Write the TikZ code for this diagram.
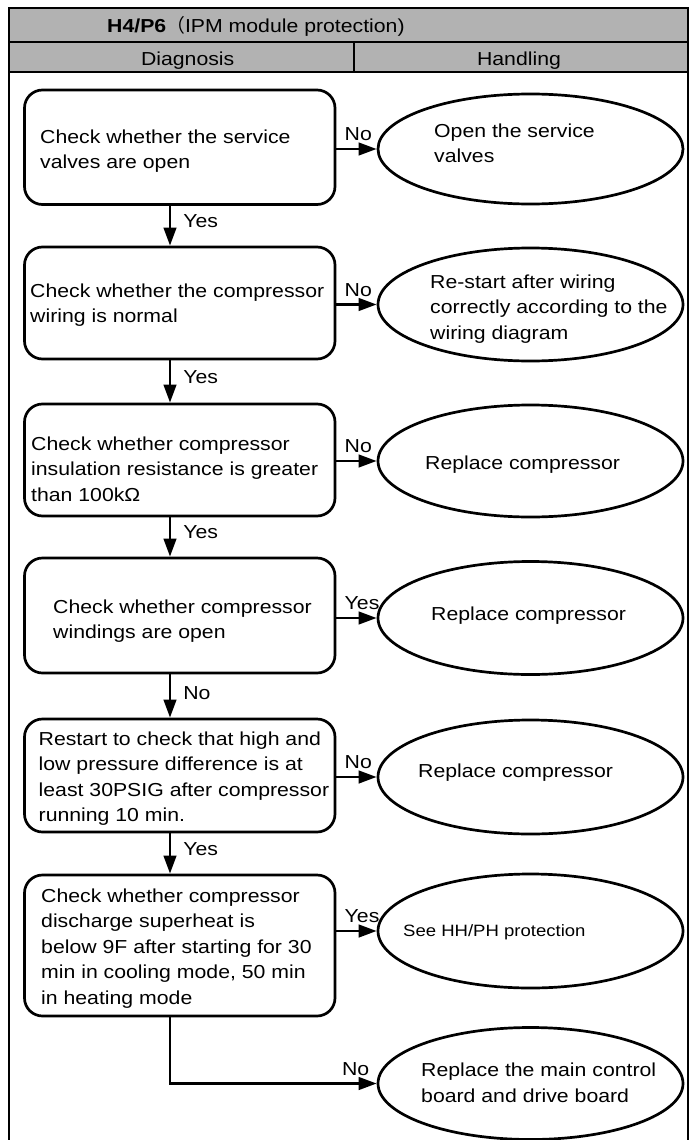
\documentclass[tikz,border=0pt]{standalone}
\usepackage{fontspec}
\setmainfont{Liberation Sans}[FakeStretch=1.13]
\newfontfamily\cjkfont{Noto Sans CJK SC}
\usetikzlibrary{arrows.meta,shapes.geometric}
\tikzset{
  frame/.style={line width=2.5pt},
  hdrcell/.style={draw, line width=2.5pt, fill=black!30, inner sep=0pt},
  stepbox/.style={draw, line width=2.7pt, rounded corners=18pt, minimum width=310.5pt, inner sep=0pt},
  endell/.style={draw, ellipse, line width=2.7pt, minimum width=305pt, inner sep=0pt},
  txt/.style={anchor=north west, inner sep=0pt, align=left, font=\fontsize{18.8}{25.5}\selectfont},
  txtone/.style={anchor=base west, inner sep=0pt, font=\fontsize{18.8}{25.5}\selectfont},
  lbl/.style={inner sep=0pt, anchor=base west, font=\fontsize{18.8}{22}\selectfont},
  arr/.style={line width=2.7pt, -{Triangle[length=18pt,width=12.5pt]}}
}
\begin{document}
\begin{tikzpicture}[x=1pt,y=-1pt]
\useasboundingbox (0,0) rectangle (696,1140);
\fill[white] (0,0) rectangle (696,1140);
% header
\node[hdrcell, minimum width=679pt, minimum height=34pt] (h1) at (348.5,25) {};
\node[hdrcell, minimum width=345pt, minimum height=30pt] (h2) at (181.5,57) {};
\node[hdrcell, minimum width=334pt, minimum height=30pt] (h3) at (521,57) {};
\node[txtone] (htitle) at (107,33) {{\bfseries H4/P6}{\cjkfont （}IPM module protection)};
\node[txtone, anchor=base] (hdiag) at (187.7,66) {Diagnosis};
\node[txtone, anchor=base] (hhand) at (519,66) {Handling};
\draw[frame] (9,72) -- (9,1145);
\draw[frame] (688,72) -- (688,1145);
% boxes
\node[stepbox, minimum height=114.5pt] (b1) at (179.75,147.25) {};
\node[stepbox, minimum height=112pt] (b2) at (179.75,303) {};
\node[stepbox, minimum height=112pt] (b3) at (179.75,460) {};
\node[stepbox, minimum height=115pt] (b4) at (179.75,615.5) {};
\node[stepbox, minimum height=113pt] (b5) at (179.75,775.5) {};
\node[stepbox, minimum height=141pt] (b6) at (179.75,945.5) {};
% box texts
\node[txt] (t1) at (40,125.15) {\strut Check whether the service\\valves are open};
\node[txt] (t2) at (30,279.15) {\strut Check whether the compressor\\wiring is normal};
\node[txt] (t3) at (31,432.15) {\strut Check whether compressor\\insulation resistance is greater\\than 100kΩ};
\node[txt] (t4) at (53,595.15) {\strut Check whether compressor\\windings are open};
\node[txt] (t5) at (38.5,727.15) {\strut Restart to check that high and\\low pressure difference is at\\least 30PSIG after compressor\\running 10 min.};
\node[txt] (t6) at (41,884.15) {\strut Check whether compressor\\discharge superheat is\\below 9F after starting for 30\\min in cooling mode, 50 min\\in heating mode};
% ellipses
\node[endell, minimum height=110pt] (e1) at (530.5,149) {};
\node[endell, minimum height=113pt] (e2) at (530.5,304.5) {};
\node[endell, minimum height=112pt] (e3) at (530.5,461) {};
\node[endell, minimum height=113pt] (e4) at (530.5,618) {};
\node[endell, minimum height=114pt] (e5) at (530.5,777) {};
\node[endell, minimum height=114pt] (e6) at (530.5,931) {};
\node[endell, minimum height=112pt] (e7) at (530.5,1083.5) {};
% ellipse texts
\node[txt] (u1) at (434,119.15) {\strut Open the service\\valves};
\node[txt] (u2) at (430,270.15) {\strut Re-start after wiring\\correctly according to the\\wiring diagram};
\node[txtone] (u3) at (425,469) {Replace compressor};
\node[txtone] (u4) at (431,620.5) {Replace compressor};
\node[txtone] (u5) at (418,777.5) {Replace compressor};
\node[txtone, font=\fontsize{16.4}{20}\selectfont] (u6) at (403,936.5) {See HH/PH protection};
\node[txt] (u7) at (421,1058.65) {\strut Replace the main control\\board and drive board};
% connectors
\coordinate (cx) at (170,0);
\draw[arr] (b1.east |- e1.center) -- node[lbl, pos=0, xshift=7pt, yshift=8.5pt] (l1) {No} (e1.west);
\draw[arr] (b2.east |- e2.center) -- node[lbl, pos=0, xshift=7pt, yshift=8.5pt] (l2) {No} (e2.west);
\draw[arr] (b3.east |- e3.center) -- node[lbl, pos=0, xshift=7pt, yshift=8.5pt] (l3) {No} (e3.west);
\draw[arr] (b4.east |- e4.center) -- node[lbl, pos=0, xshift=7pt, yshift=8.5pt] (l4) {Yes} (e4.west);
\draw[arr] (b5.east |- e5.center) -- node[lbl, pos=0, xshift=7pt, yshift=8.5pt] (l5) {No} (e5.west);
\draw[arr] (b6.east |- e6.center) -- node[lbl, pos=0, xshift=7pt, yshift=8.5pt] (l6) {Yes} (e6.west);
\draw[arr] (b1.south -| cx) -- node[lbl, xshift=12pt, yshift=-1.5pt] (v1) {Yes} (b2.north -| cx);
\draw[arr] (b2.south -| cx) -- node[lbl, xshift=12pt, yshift=-1.5pt] (v2) {Yes} (b3.north -| cx);
\draw[arr] (b3.south -| cx) -- node[lbl, xshift=12pt, yshift=-1.5pt] (v3) {Yes} (b4.north -| cx);
\draw[arr] (b4.south -| cx) -- node[lbl, xshift=12pt, yshift=-3pt] (v4) {No} (b5.north -| cx);
\draw[arr] (b5.south -| cx) -- node[lbl, xshift=12pt, yshift=-1.5pt] (v5) {Yes} (b6.north -| cx);
\draw[arr] (b6.south -| cx) |- node[lbl, pos=1, xshift=-36pt, yshift=8.5pt] (l7) {No} (e7.west);
\end{tikzpicture}
\end{document}
